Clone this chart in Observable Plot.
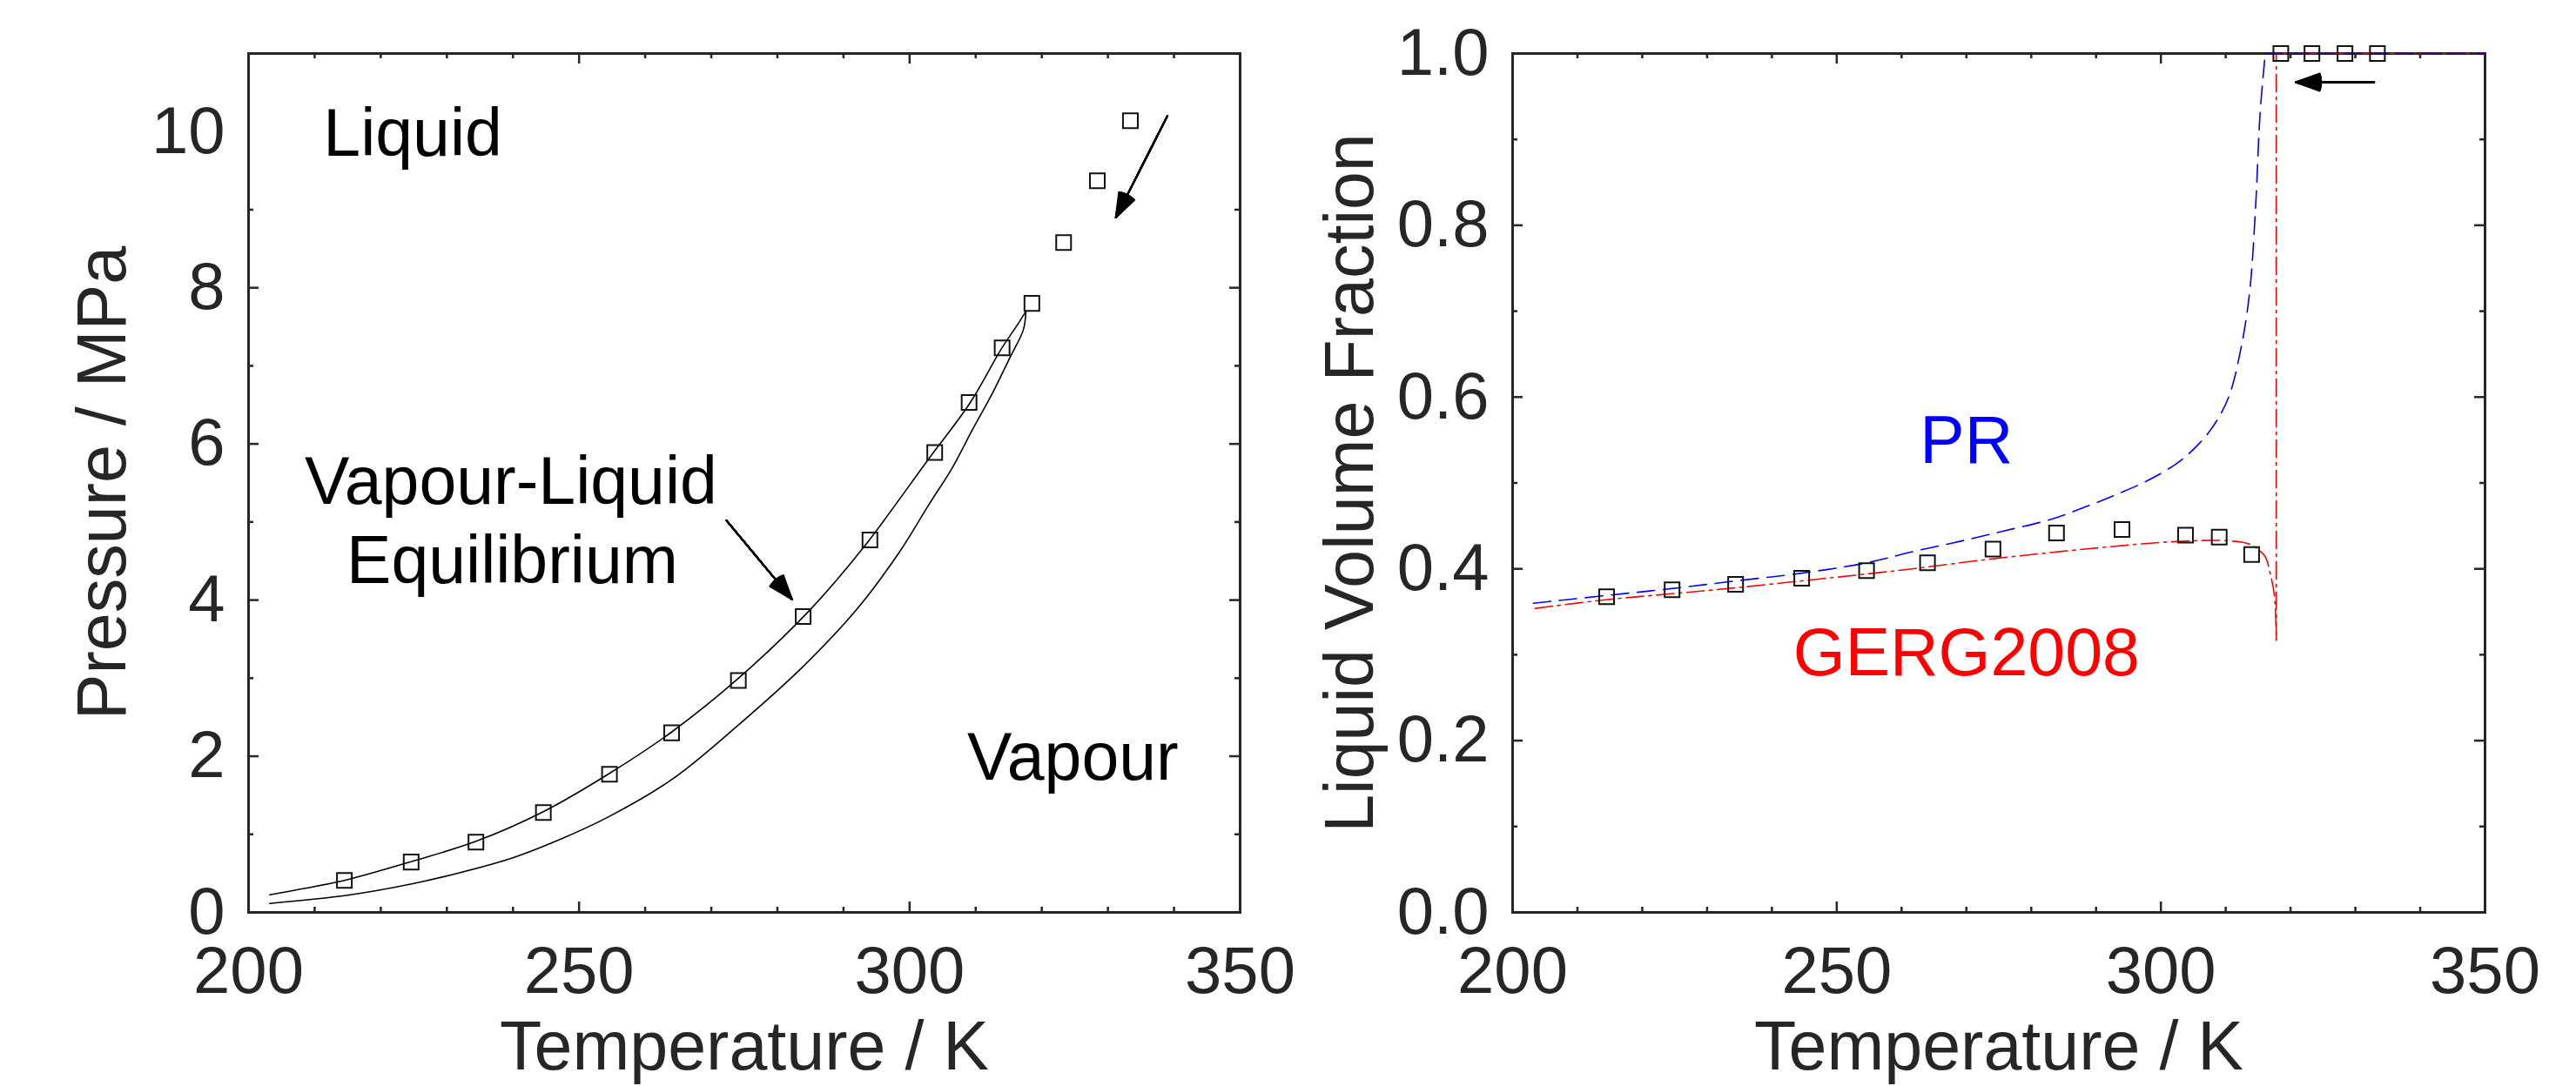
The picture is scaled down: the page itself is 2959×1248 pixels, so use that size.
<!DOCTYPE html>
<html><head><meta charset="utf-8">
<script src="https://cdn.jsdelivr.net/npm/d3@7"></script>
<script src="https://cdn.jsdelivr.net/npm/@observablehq/plot@0.6"></script>
<style>
html,body{margin:0;padding:0;background:#fff;}
#wrap{display:flex;width:2959px;height:1248px;overflow:hidden;background:#fff;}
#wrap svg{display:block;flex:none;overflow:visible;background:transparent !important;}
</style></head><body><div id="wrap"></div>
<script>
// ---------- data ----------
const expT   = [214.5,224.6,234.4,244.6,254.6,264.0,274.1,283.9,294.0,303.8,309.0,314.0,318.5,323.3,328.4,333.4];
const expP   = [0.41,0.645,0.90,1.28,1.77,2.30,2.97,3.79,4.77,5.89,6.53,7.23,7.80,8.58,9.37,10.14];
const expLVF = [0.3675,0.3756,0.382,0.389,0.398,0.407,0.423,0.4417,0.4457,0.4393,0.4369,0.4167,1,1,1,1];

const bubbleT = [203.2,208,214.5,224.6,234.4,244.6,254.6,264.0,274.0,285.0,292.9,302.9,309.1,313.9,316.5,317.6];
const bubbleP = [0.226,0.30,0.41,0.65,0.91,1.29,1.78,2.31,2.99,3.88,4.66,5.81,6.52,7.22,7.55,7.70];
const dewT = [203.2,215,225,232.3,240,247,254.6,264,274.1,283.9,292.0,298.5,302.9,306.5,309.5,312.6,315.2,317.2,317.6];
const dewP = [0.115,0.22,0.37,0.516,0.70,0.93,1.23,1.70,2.40,3.15,3.88,4.62,5.22,5.70,6.18,6.66,7.11,7.46,7.70];

const prT = [203.2,214.5,224.5,234.5,244.6,254.6,262.2,269,275.6,283.2,289.0,293.5,298.0,302.5,305.6,308.3,310.5,312.4,313.7,314.6,315.3,316.1];
const prV = [0.360,0.369,0.377,0.386,0.395,0.407,0.4208,0.432,0.4438,0.458,0.474,0.4877,0.503,0.523,0.5434,0.5687,0.6008,0.6586,0.723,0.82,0.93,1.0];
const prTopT = [316.1,350];
const prTopV = [1.0,1.0];

const gergT = [203.5,214.4,224.5,234.5,244.6,254.6,262.2,271.1,280.1,289.0,298.0,304.7,310.5,313.7,316.0,316.8,317.5,317.8];
const gergV = [0.354,0.364,0.371,0.378,0.386,0.394,0.4005,0.409,0.4167,0.4235,0.4296,0.4326,0.4326,0.4286,0.4151,0.3965,0.3695,0.317];
const gergTopT = [317.8,317.8,350];
const gergTopV = [0.317,1.0,1.0];

const xMajor = [200,250,300,350];
const xMinor = [210,220,230,240,260,270,280,290,310,320,330,340];
const pMajor = [0,2,4,6,8,10];
const pMinor = [1,3,5,7,9];
const vMajor = [0,0.2,0.4,0.6,0.8,1.0];
const vMinor = [0.1,0.3,0.5,0.7,0.9];

const leftNotes = ["Liquid","Vapour-Liquid","Equilibrium","Vapour"];
const leftNoteT = [211.3,239.7,239.9,324.7];
const leftNoteP = [9.685,5.227,4.213,1.705];
const leftNoteAnchor = ["start","middle","middle","middle"];

const rightNotes = ["PR","GERG2008"];
const rightNoteT = [270,270];
const rightNoteV = [0.523,0.2756];
const rightNoteColor = ["#0000ff","#ff0000"];

const leftArrowT1 = [339.0,272.3], leftArrowP1 = [10.20,5.02];
const leftArrowT2 = [331.2,282.2], leftArrowP2 = [8.90,4.01];
const rightArrowT1 = [332.9], rightArrowV1 = [0.9666];
const rightArrowT2 = [320.8], rightArrowV2 = [0.9666];

// ---------- helpers ----------
const zip2 = (a,b) => a.map((v,i)=>({x:v,y:b[i]}));
const FONT = "Liberation Sans, Arial, Helvetica, sans-serif";
const AX = "#262626";
const MT = 61, MB = 200, H = 1248;
const FH = H - MT - MB;

function frameMarks(fw, yMajor, yMinor, yFmt, yLabel, yLabelDx) {
  const m = [];
  const tick = (vals, len, side) => {
    if (side === "bottom") m.push(Plot.ruleX(vals, {x: d=>d, insetTop: FH - len, stroke: AX, strokeWidth: 2.5}));
    if (side === "top") m.push(Plot.ruleX(vals, {x: d=>d, insetBottom: FH - len, stroke: AX, strokeWidth: 2.5}));
    if (side === "left") m.push(Plot.ruleY(vals, {y: d=>d, insetRight: fw - len, stroke: AX, strokeWidth: 2.5}));
    if (side === "right") m.push(Plot.ruleY(vals, {y: d=>d, insetLeft: fw - len, stroke: AX, strokeWidth: 2.5}));
  };
  const xm = xMajor.slice(1,-1);
  const ym = yMajor.slice(1,-1);
  tick(xm, 12, "bottom"); tick(xm, 12, "top");
  tick(xMinor, 6, "bottom"); tick(xMinor, 6, "top");
  tick(ym, 12, "left"); tick(ym, 12, "right");
  tick(yMinor, 6, "left"); tick(yMinor, 6, "right");
  m.push(Plot.frame({stroke: AX, strokeWidth: 3}));
  m.push(Plot.text(xMajor, {x: d=>d, frameAnchor: "bottom", dy: 39, textAnchor: "middle", lineAnchor: "top", text: d=>String(d), fontSize: 76, fill: AX}));
  m.push(Plot.text(yMajor, {y: d=>d, frameAnchor: "left", dx: -27, textAnchor: "end", lineAnchor: "middle", text: yFmt, fontSize: 76, fill: AX}));
  m.push(Plot.text(["Temperature / K"], {frameAnchor: "bottom", dy: 180, textAnchor: "middle", lineAnchor: "bottom", text: d=>d, fontSize: 79, fill: AX}));
  m.push(Plot.text([yLabel], {frameAnchor: "left", dx: yLabelDx, rotate: -90, textAnchor: "middle", lineAnchor: "middle", text: d=>d, fontSize: 79, fill: AX}));
  return m;
}

function arrows(x1, y1, x2, y2) {
  const data = x1.map((v,i)=>({x1:v,y1:y1[i],x2:x2[i],y2:y2[i]}));
  const out = [];
  for (let a = 4; a <= 40; a += 4) {
    out.push(Plot.arrow(data, {x1:"x1", y1:"y1", x2:"x2", y2:"y2", stroke: "#000", strokeWidth: 2, headLength: 22, headAngle: a}));
  }
  return out;
}

// ---------- left plot ----------
const LW = 1480, LML = 285, LMR = 56;
const leftFW = LW - LML - LMR;
const leftNoteData = leftNotes.map((t,i)=>({t, x:leftNoteT[i], y:leftNoteP[i], a:leftNoteAnchor[i]}));
const left = Plot.plot({
  width: LW, height: H, marginLeft: LML, marginRight: LMR, marginTop: MT, marginBottom: MB,
  style: {fontFamily: FONT, background: "transparent", color: AX, overflow: "visible"},
  x: {domain: [200,350], axis: null},
  y: {domain: [0,11], axis: null},
  marks: [
    ...frameMarks(leftFW, pMajor, pMinor, d=>String(d), "Pressure / MPa", -167),
    Plot.line(zip2(bubbleT,bubbleP), {x:"x", y:"y", curve:"catmull-rom", stroke:"#000", strokeWidth:1.6}),
    Plot.line(zip2(dewT,dewP), {x:"x", y:"y", curve:"catmull-rom", stroke:"#000", strokeWidth:1.6}),
    Plot.dot(zip2(expT,expP), {x:"x", y:"y", symbol:"square", r: 9.6, stroke:"#111", strokeWidth:2, fill:"none"}),
    ...arrows(leftArrowT1, leftArrowP1, leftArrowT2, leftArrowP2),
    Plot.text(leftNoteData.filter(d=>d.a==="start"),
      {x:"x", y:"y", text:"t", textAnchor:"start", lineAnchor:"bottom", fontSize:77, fill:"#000"}),
    Plot.text(leftNoteData.filter(d=>d.a==="middle"),
      {x:"x", y:"y", text:"t", textAnchor:"middle", lineAnchor:"bottom", fontSize:77, fill:"#000"})
  ]
});

// ---------- right plot ----------
const RW = 1479, RML = 257, RMR = 105;
const rightFW = RW - RML - RMR;
const right = Plot.plot({
  width: RW, height: H, marginLeft: RML, marginRight: RMR, marginTop: MT, marginBottom: MB,
  style: {fontFamily: FONT, background: "transparent", color: AX, overflow: "visible"},
  x: {domain: [200,350], axis: null},
  y: {domain: [0,1], axis: null},
  marks: [
    ...frameMarks(rightFW, vMajor, vMinor, d3.format(".1f"), "Liquid Volume Fraction", -186),
    Plot.line(zip2(gergT,gergV), {x:"x", y:"y", curve:"catmull-rom", stroke:"#ff0000", strokeWidth:1.6, strokeDasharray:"20,6,3,6"}),
    Plot.line(zip2(gergTopT,gergTopV), {x:"x", y:"y", stroke:"#ff0000", strokeWidth:1.6, strokeDasharray:"20,6,3,6"}),
    Plot.line(zip2(prT,prV), {x:"x", y:"y", curve:"catmull-rom", stroke:"#0000ff", strokeWidth:1.6, strokeDasharray:"20,10"}),
    Plot.line(zip2(prTopT,prTopV), {x:"x", y:"y", stroke:"#0000ff", strokeWidth:1.6, strokeDasharray:"20,10"}),
    Plot.dot(zip2(expT,expLVF), {x:"x", y:"y", symbol:"square", r: 9.6, stroke:"#111", strokeWidth:2, fill:"none"}),
    ...arrows(rightArrowT1, rightArrowV1, rightArrowT2, rightArrowV2),
    Plot.text(rightNotes.map((t,i)=>({t, x:rightNoteT[i], y:rightNoteV[i], c:rightNoteColor[i]})),
      {x:"x", y:"y", text:"t", textAnchor:"middle", lineAnchor:"bottom", fontSize:77, fill:d=>d.c})
  ]
});

document.getElementById("wrap").append(left, right);
</script></body></html>
